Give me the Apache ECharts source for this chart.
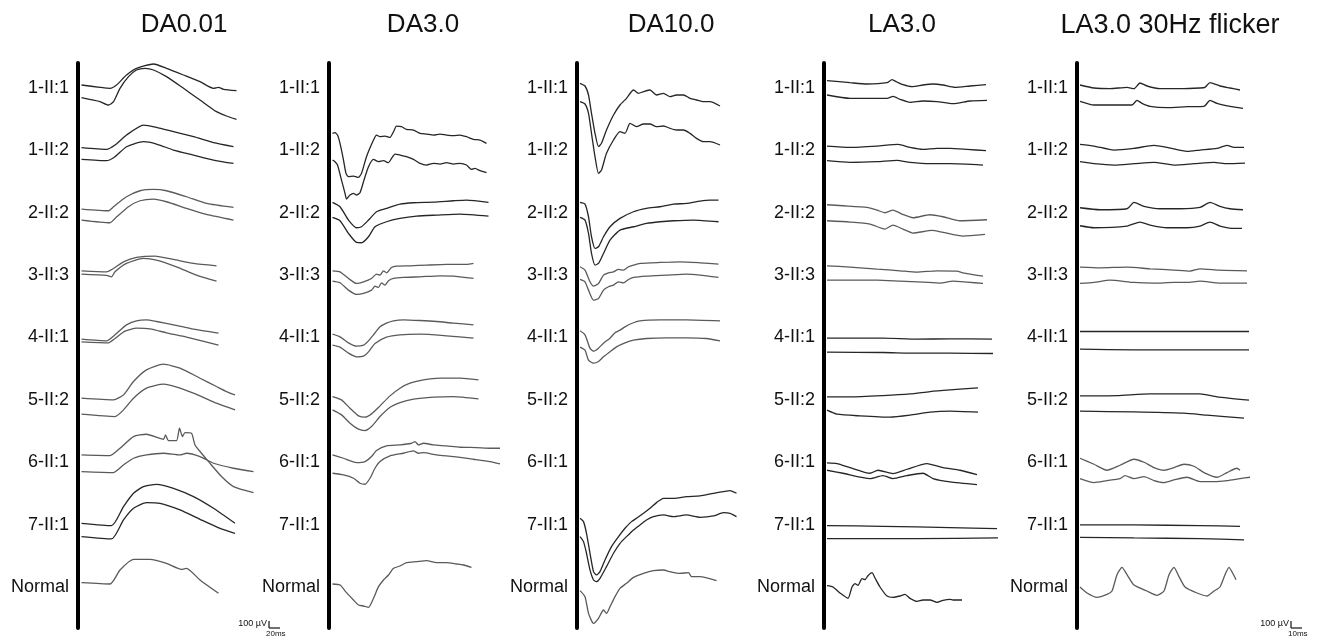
<!DOCTYPE html>
<html>
<head>
<meta charset="utf-8">
<title>ERG traces</title>
<script src="https://cdn.jsdelivr.net/npm/echarts@6.0.0/dist/echarts.min.js"></script>
<style>
  html, body { margin: 0; padding: 0; background: #fff; }
  #chart { width: 1319px; height: 639px; }
</style>
</head>
<body>
<div id="chart"></div>
<script>
// Row labels and panel titles
const rowLabels = ['1-II:1', '1-II:2', '2-II:2', '3-II:3', '4-II:1', '5-II:2', '6-II:1', '7-II:1', 'Normal'];
const panelTitles = ['DA0.01', 'DA3.0', 'DA10.0', 'LA3.0', 'LA3.0 30Hz flicker'];

// Each trace: [row, times (ms), amplitudes (uV, relative to the row label)]
const da001Traces = [
    [0, [7,44,64,77,97,117,151,177,211,244,271,281,291,317], [45,10,-5,45,195,295,360,295,195,95,-5,10,-20,-40]],
    [0, [7,44,61,71,84,101,117,134,151,177,211,244,277,297,317], [-145,-205,-255,-205,-5,170,270,295,270,170,-5,-180,-355,-420,-470]],
    [1, [7,57,74,97,131,157,191,231,271,311], [40,15,80,230,380,345,280,205,115,55]],
    [1, [7,57,74,97,131,157,191,231,271,311], [-135,-155,-95,55,130,95,5,-70,-145,-195]],
    [2, [7,61,71,97,124,151,177,217,257,311], [55,30,90,240,330,350,330,240,140,80]],
    [2, [7,64,74,101,124,151,177,217,257,311], [-110,-150,-85,90,180,205,165,65,-25,-110]],
    [3, [7,57,71,91,117,154,191,231,277], [65,50,100,200,265,285,235,175,140]],
    [3, [7,57,67,74,97,131,157,197,237,277], [15,-5,-25,50,175,250,225,125,0,-90]],
    [4, [7,57,74,97,117,137,157,191,231,281], [-25,-50,40,190,250,265,240,190,125,65]],
    [4, [7,61,74,94,117,144,177,217,281], [-65,-80,-15,95,140,130,70,5,-115]],
    [5, [7,71,91,111,137,171,204,244,277,297,314], [25,0,75,275,450,535,475,325,200,125,75]],
    [5, [7,74,91,111,137,171,204,244,277,314], [-215,-250,-150,25,175,235,175,60,-50,-150]],
    [6, [7,64,84,111,137,171,175,181,197,203,209,214,227,234,247,261,287,311,351], [110,100,210,385,420,345,410,325,325,510,385,445,435,260,135,10,-215,-365,-455]],
    [6, [7,71,91,111,137,171,204,217,244,271,311,351], [-140,-155,-40,60,110,135,110,135,85,-15,-90,-140]],
    [7, [7,67,91,111,131,157,191,231,271,314], [20,-15,270,470,570,605,545,420,245,20]],
    [7, [7,67,91,111,137,164,204,244,284,314], [-180,-215,70,245,330,320,220,80,-55,-130]],
    [8, [7,64,84,111,144,177,207,217,244,281], [65,45,255,415,415,355,265,280,105,-95]]
];

const da30Traces = [
    [1, [7,12,17,22,29,34,39,49,59,65,75,89,95,102,112,122,129,135,145,155,169,182,195,209,222,235,249,262,275,289,302,315],
        [255,265,230,105,-145,-345,-395,-385,-405,-345,-95,155,230,205,215,195,280,365,355,315,305,255,245,230,245,230,220,230,205,165,155,105]],
    [1, [7,12,17,25,32,35,42,49,55,62,69,79,89,99,109,119,125,132,142,155,169,182,195,209,222,235,249,262,275,285,292,302,315],
        [-145,-170,-220,-445,-645,-730,-670,-645,-670,-635,-470,-245,-135,-170,-155,-185,-120,-55,-70,-95,-135,-195,-220,-195,-205,-185,-205,-195,-220,-285,-270,-305,-335]],
    [2, [7,22,39,55,65,79,95,115,142,169,209,249,275,319], [155,90,-110,-225,-210,-110,15,65,130,150,160,180,190,155]],
    [2, [7,22,39,55,65,79,92,115,142,175,215,262,319], [-70,-120,-310,-445,-450,-360,-210,-135,-85,-50,-35,-20,-50]],
    [3, [7,22,39,55,69,85,95,102,109,115,125,135,162,195,235,275,289], [65,50,-50,-125,-100,-50,15,0,65,35,115,135,140,150,160,160,175]],
    [3, [7,22,39,55,69,85,92,99,105,112,119,129,149,182,222,249,262,289], [-90,-115,-225,-290,-275,-225,-165,-185,-115,-150,-85,-50,-35,-25,-10,-15,-25,-50]],
    [4, [7,22,39,55,69,79,89,102,115,129,149,182,215,249,289], [50,10,-80,-130,-115,-50,40,160,215,250,265,255,240,215,190]],
    [4, [7,22,39,55,69,79,92,115,142,182,235,289], [-115,-145,-235,-290,-280,-215,-90,5,40,50,25,-10]],
    [5, [7,25,42,59,72,85,102,122,142,162,189,222,262,299], [50,0,-125,-240,-260,-210,-90,60,175,250,300,325,325,300]],
    [5, [7,25,42,59,72,85,102,122,142,169,209,249,299], [-150,-225,-350,-440,-460,-400,-250,-110,-40,10,40,50,15]],
    [6, [7,29,55,72,85,95,115,142,165,172,179,189,209,235,262,295,322,342], [110,60,-5,10,85,175,245,260,285,310,260,285,260,245,225,220,210,210]],
    [6, [7,29,49,62,72,82,92,102,122,149,169,179,189,215,249,289,322,342], [-165,-190,-240,-315,-330,-240,-90,10,95,135,170,135,145,110,85,45,10,-25]],
    [8, [7,22,35,49,59,69,79,89,99,109,119,129,142,155,175,195,215,235,255,269,285], [45,30,-85,-195,-270,-285,-305,-170,5,105,180,280,315,365,380,395,365,365,345,330,295]]
];

const da100Traces = [
    [0, [6,16,23,29,36,43,49,59,73,86,99,113,123,133,146,159,173,186,199,213,226,239,253,266,286],
        [70,30,-105,-380,-680,-880,-830,-630,-405,-255,-155,-30,-80,-55,-30,-105,-80,-130,-105,-105,-155,-180,-205,-205,-270]],
    [0, [6,16,23,29,36,43,49,59,73,86,96,106,119,133,146,159,173,186,199,213,226,239,253,266,286],
        [-205,-240,-380,-680,-1030,-1280,-1230,-980,-780,-655,-680,-530,-580,-540,-540,-580,-570,-605,-630,-630,-680,-755,-805,-805,-855]],
    [2, [6,16,23,29,36,43,53,66,86,113,139,166,193,219,246,266,283], [155,130,-60,-360,-535,-510,-360,-210,-85,15,65,90,130,140,175,190,190]],
    [2, [6,16,23,29,36,43,53,66,86,113,139,166,193,233,283], [-70,-110,-310,-610,-785,-760,-610,-410,-260,-210,-160,-135,-120,-110,-135]],
    [3, [6,16,26,33,43,53,63,73,83,93,103,113,126,166,206,246,283], [125,75,-100,-165,-125,0,35,50,85,75,125,150,175,190,200,185,165]],
    [3, [6,16,23,33,43,53,63,73,83,93,103,113,139,179,219,246,283], [-65,-100,-225,-375,-350,-225,-175,-150,-100,-115,-65,-35,-15,0,15,0,-35]],
    [4, [6,16,26,33,43,53,66,76,86,96,109,126,166,219,286], [100,40,-160,-205,-160,-85,-10,70,110,160,210,250,265,265,250]],
    [4, [6,16,23,33,43,53,66,79,96,113,139,179,219,259,286], [-145,-190,-340,-385,-360,-290,-215,-140,-80,-40,-15,-5,-5,-15,-50]],
    [7, [6,13,19,26,33,39,46,56,69,83,96,109,119,133,146,159,173,193,219,246,273,293,306,319],
        [95,45,-130,-430,-705,-755,-705,-530,-330,-180,-55,45,95,170,245,330,395,395,420,430,470,495,510,470]],
    [7, [6,13,19,26,33,39,46,59,73,86,99,113,126,139,153,173,193,219,246,273,293,306,319],
        [-180,-255,-430,-680,-830,-855,-805,-630,-430,-280,-180,-80,-5,70,120,145,120,145,110,130,180,170,120]],
    [8, [6,16,23,33,43,53,59,66,76,86,99,113,133,153,173,186,206,223,229,246,279], [-55,-145,-395,-545,-470,-345,-395,-295,-145,-20,55,145,205,245,255,230,205,215,155,155,95]]
];

const la30Traces = [
    [0, [3,26,43,63,68,73,79,88,99,109,119,131,146,162], [110,80,60,80,125,90,50,20,45,60,45,10,30,50]],
    [0, [3,26,39,63,69,76,86,99,113,129,146,163], [-105,-155,-155,-155,-125,-170,-215,-195,-205,-235,-195,-185]],
    [1, [3,26,53,74,86,99,113,126,143,162], [65,45,65,90,45,15,30,30,15,-5]],
    [1, [3,26,53,73,86,106,126,159], [-155,-180,-170,-150,-180,-200,-200,-220]],
    [2, [3,19,43,53,61,69,78,89,106,119,136,163], [120,105,80,40,0,40,-20,-75,-30,-60,-120,-105]],
    [2, [3,26,46,61,69,79,89,108,119,139,161], [-120,-140,-170,-245,-185,-245,-305,-265,-295,-350,-325]],
    [3, [3,26,53,76,93,113,133,139,159], [140,120,90,65,45,65,60,35,-15]],
    [3, [3,26,53,76,99,116,129,143,159], [-75,-75,-75,-90,-105,-120,-90,-105,-125]],
    [4, [3,59,93,126,168], [-10,-10,-25,-20,-25]],
    [4, [3,59,93,126,169], [-220,-225,-235,-235,-240]],
    [5, [3,26,59,86,106,126,154], [45,45,65,90,125,150,180]],
    [5, [3,13,36,66,86,106,126,154], [-155,-215,-240,-260,-230,-185,-170,-185]],
    [6, [3,13,26,46,54,69,83,103,119,136,153], [-10,-20,-80,-165,-120,-170,-105,-20,-80,-120,-185]],
    [6, [3,19,46,59,69,83,99,109,126,153], [-120,-165,-245,-200,-245,-200,-165,-245,-295,-335]],
    [7, [3,59,126,173], [-15,-25,-45,-60]],
    [7, [3,93,174], [-210,-210,-200]],
    [8, [3,9,16,24,28,31,34,38,41,44,48,51,56,63,69,76,81,86,93,99,106,113,119,126,129,138],
        [20,0,-90,-170,0,50,25,125,110,170,215,135,0,-135,-155,-135,-110,-170,-215,-195,-195,-230,-200,-185,-195,-195]]
];

const flickerTraces = [
    [0, [3,17,33,50,57,63,70,83,103,123,128,133,143,153,163], [45,0,-10,10,-10,75,30,-10,-10,0,10,80,30,0,-30]],
    [0, [3,17,37,55,60,65,73,90,110,127,133,140,153,166], [-200,-255,-255,-255,-185,-230,-275,-295,-280,-275,-185,-230,-275,-305]],
    [1, [3,17,37,57,77,90,110,123,140,150,157,167], [90,65,5,30,75,45,-15,5,30,75,45,45]],
    [1, [3,17,37,57,77,97,117,137,150,168], [-170,-200,-220,-200,-180,-220,-200,-180,-200,-190]],
    [2, [3,23,50,57,67,83,103,123,133,143,153,166], [75,45,60,155,95,60,60,80,155,95,60,45]],
    [2, [3,17,50,63,73,90,110,123,133,143,157,165], [-195,-225,-200,-140,-185,-225,-225,-200,-140,-200,-235,-235]],
    [3, [3,23,50,73,97,113,123,143,170], [120,110,120,95,75,60,95,75,65]],
    [3, [3,17,33,57,77,97,110,123,143,170], [-125,-110,-75,-110,-120,-110,-110,-90,-120,-120]],
    [4, [3,57,123,172], [90,90,90,90]],
    [4, [3,57,123,172], [-175,-185,-185,-185]],
    [5, [3,40,73,123,140,172], [60,65,90,90,45,-5]],
    [5, [3,57,107,130,167], [-170,-180,-200,-230,-275]],
    [6, [3,17,30,43,57,67,77,87,97,107,117,127,140,150,160,163], [60,-30,-120,-45,45,0,-80,-120,-80,-30,-60,-155,-225,-155,-90,-120]],
    [6, [3,17,30,43,48,57,67,77,87,97,110,123,137,150,163,173], [-245,-305,-275,-245,-200,-245,-215,-275,-305,-265,-225,-290,-290,-275,-245,-225]],
    [7, [3,57,123,163], [-5,-5,-15,-25]],
    [7, [3,57,123,167], [-190,-200,-210,-230]],
    [8, [3,10,20,30,35,40,45,50,57,70,80,87,92,97,102,108,120,130,137,143,148,152,157,159],
        [0,-90,-155,-110,-60,185,295,185,30,-60,-125,-60,185,295,155,0,-90,-135,-60,0,185,295,170,110]]
];

document.addEventListener('DOMContentLoaded', function() {
    const chart = echarts.init(document.getElementById('chart'), null, { renderer: 'canvas' });

    // Layout: 15 uV per pixel, rows 62.375 px apart, first row label at y=88
    const UV_PER_ROW = 15 * 62.375;
    const GRID_TOP = 63;
    const GRID_HEIGHT = 565;
    const Y_MIN = -(88 - GRID_TOP) / 62.375;
    const Y_MAX = (GRID_TOP + GRID_HEIGHT - 88) / 62.375;
    const FONT = '"Liberation Sans", Arial, Helvetica, sans-serif';

    const panels = [
        { traces: da001Traces, left: 78, width: 182, msPerPx: 2, titleX: 179, darkRows: [0, 1, 7] },
        { traces: da30Traces, left: 329, width: 176, msPerPx: 2, titleX: 418, darkRows: [1, 2] },
        { traces: da100Traces, left: 577, width: 168, msPerPx: 2, titleX: 666, darkRows: [0, 1, 2, 7] },
        { traces: la30Traces, left: 824, width: 176, msPerPx: 1, titleX: 897, darkRows: [0, 1, 4, 5, 6, 7, 8] },
        { traces: flickerTraces, left: 1077, width: 176, msPerPx: 1, titleX: 1165, darkRows: [0, 1, 2, 4, 5, 7] }
    ];

    const grids = [], xAxes = [], yAxes = [], titles = [], series = [];

    panels.forEach(function(p, idx) {
        grids.push({ left: p.left, top: GRID_TOP, width: p.width, height: GRID_HEIGHT });
        xAxes.push({
            gridIndex: idx, type: 'value', min: 0, max: p.width * p.msPerPx, show: false
        });
        yAxes.push({
            gridIndex: idx, type: 'value', inverse: true, min: Y_MIN, max: Y_MAX,
            axisLine: { show: true, onZero: false, lineStyle: { color: '#000', width: 4 } },
            axisTick: { show: false },
            splitLine: { show: false },
            axisLabel: {
                customValues: [0, 1, 2, 3, 4, 5, 6, 7, 8],
                formatter: function(v) { return rowLabels[Math.round(v)]; },
                fontSize: 18, color: '#111', margin: 9, fontFamily: FONT
            }
        });
        titles.push({
            text: panelTitles[idx], left: p.titleX, top: 7, textAlign: 'center',
            textStyle: { fontSize: idx === 4 ? 27 : 26, fontWeight: 'normal', color: '#111', fontFamily: FONT }
        });

        p.traces.forEach(function(tr) {
            const row = tr[0], times = tr[1], uv = tr[2];
            series.push({
                type: 'line',
                xAxisIndex: idx,
                yAxisIndex: idx,
                data: times.map(function(t, i) { return [t, row - uv[i] / UV_PER_ROW]; }),
                symbol: 'none',
                smooth: 0.2,
                clip: false,
                silent: true,
                lineStyle: { width: 1.3, color: p.darkRows.indexOf(row) >= 0 ? '#262626' : '#5a5a5a' }
            });
        });
    });

    // Scale bars (100 uV vertical, 20 ms / 10 ms horizontal)
    function scaleBar(x, y, timeText) {
        return [
            { type: 'line', shape: { x1: x, y1: y - 7, x2: x, y2: y }, style: { stroke: '#111', lineWidth: 1.2 } },
            { type: 'line', shape: { x1: x, y1: y, x2: x + 11, y2: y }, style: { stroke: '#111', lineWidth: 1.2 } },
            { type: 'text', x: x - 2, y: y - 4, style: { text: '100 \u00b5V', fontSize: 9, fill: '#111', align: 'right', verticalAlign: 'middle', fontFamily: FONT } },
            { type: 'text', x: x - 3, y: y + 6, style: { text: timeText, fontSize: 8, fill: '#111', align: 'left', verticalAlign: 'middle', fontFamily: FONT } }
        ];
    }

    chart.setOption({
        animation: false,
        backgroundColor: '#fff',
        title: titles,
        grid: grids,
        xAxis: xAxes,
        yAxis: yAxes,
        series: series,
        graphic: scaleBar(269, 628, '20ms').concat(scaleBar(1291, 628, '10ms'))
    });
});
</script>
</body>
</html>
